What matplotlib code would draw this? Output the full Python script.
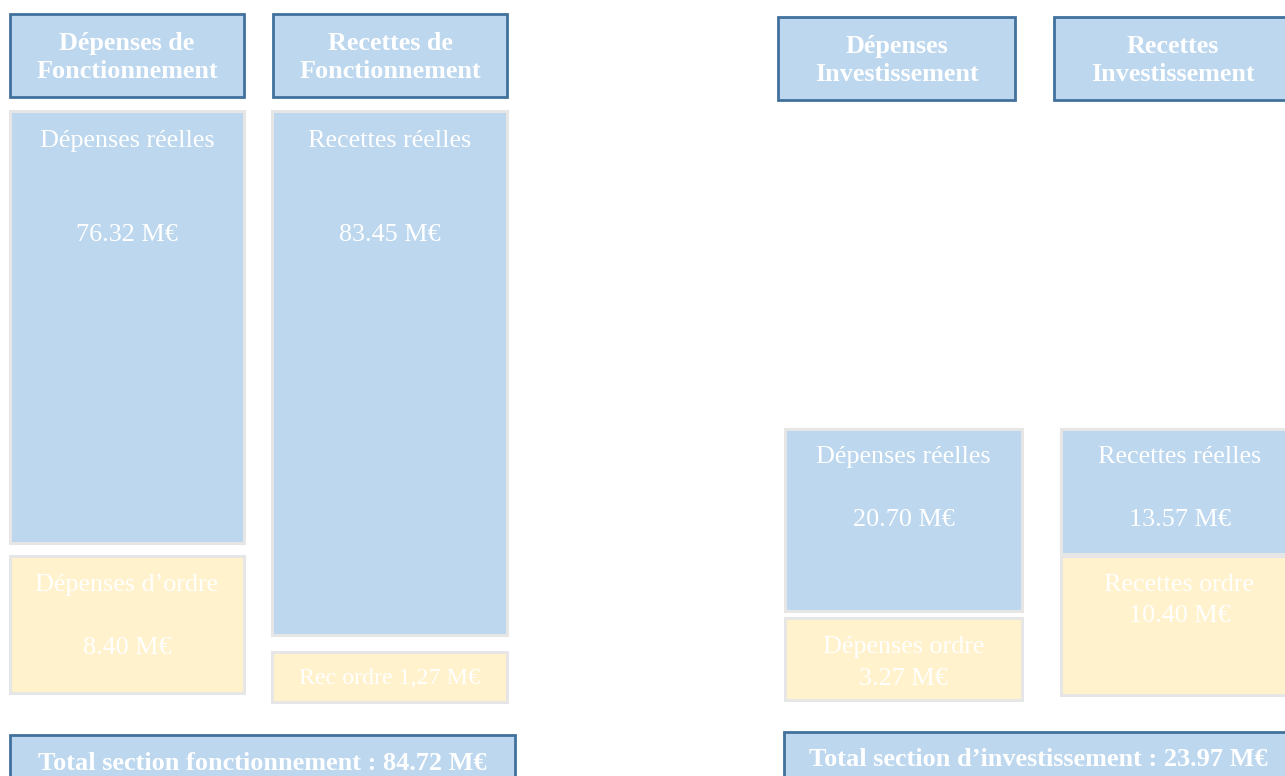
import matplotlib.pyplot as plt
from matplotlib.patches import Rectangle

# --- data -----------------------------------------------------------------
header_labels = ["Dépenses de\nFonctionnement", "Recettes de\nFonctionnement",
                 "Dépenses\nInvestissement", "Recettes\nInvestissement"]
box_names = ["Dépenses réelles", "Dépenses d’ordre", "Recettes réelles", "Rec ordre",
             "Dépenses réelles", "Dépenses ordre", "Recettes réelles", "Recettes ordre"]
box_values = [76.32, 8.40, 83.45, 1.27, 20.70, 3.27, 13.57, 10.40]
box_kinds = ["reel", "ordre", "reel", "ordre", "reel", "ordre", "reel", "ordre"]
total_labels = ["Total section fonctionnement", "Total section d’investissement"]
total_values = [84.72, 23.97]

# --- layout (pixel space, y down) -----------------------------------------
W, H = 1285, 776
header_rects = [(10, 14, 234, 83), (273, 14, 234, 83), (778, 17, 237, 83), (1054, 17, 237, 83)]
# x, y, w, h, y of name, y of value (None -> single line)
box_layout = [
    (10, 111, 234, 432, 141, 235),
    (10, 556, 234, 137, 585, 648),
    (272, 111, 235, 524, 141, 235),
    (272, 652, 235, 50, 679, None),
    (785, 429, 237, 182, 457, 520),
    (785, 618, 237, 82, 647, 679),
    (1061, 429, 237, 125, 457, 520),
    (1061, 556, 237, 139, 585, 616),
]
total_rects = [(10, 735, 505, 60), (784, 732, 508, 60)]
total_text_y = [764, 760]

BLUE = "#BDD7EE"
YELLOW = "#FFF2CC"
DARK = "#41719C"
GREY = "#E7E6E6"

plt.rcParams["font.family"] = ["Liberation Serif", "DejaVu Serif"]

fig = plt.figure(figsize=(W / 100, H / 100), dpi=100)
ax = fig.add_axes([0, 0, 1, 1])
ax.set_xlim(0, W)
ax.set_ylim(H, 0)
ax.axis("off")

for (x, y, w, h), lab in zip(header_rects, header_labels):
    ax.add_patch(Rectangle((x, y), w, h, facecolor=BLUE, edgecolor=DARK, lw=2))
    ax.text(x + w / 2, y + h / 2 + 2, lab, ha="center", va="center", color="white",
            fontsize=18.8, fontweight="bold", linespacing=1.25)

for (x, y, w, h, ty, vy), name, val, kind in zip(box_layout, box_names, box_values, box_kinds):
    fc = BLUE if kind == "reel" else YELLOW
    ax.add_patch(Rectangle((x, y), w, h, facecolor=fc, edgecolor=GREY, lw=2.2))
    if vy is None:
        ax.text(x + w / 2, ty, f"{name} {val:.2f} M€".replace(".", ","), ha="center",
                va="center", color="white", fontsize=17.2)
    else:
        ax.text(x + w / 2, ty, name, ha="center", va="center", color="white", fontsize=18.8)
        ax.text(x + w / 2, vy, f"{val:.2f} M€", ha="center", va="center", color="white",
                fontsize=18.8)

for (x, y, w, h), ty, lab, val in zip(total_rects, total_text_y, total_labels, total_values):
    ax.add_patch(Rectangle((x, y), w, h, facecolor=BLUE, edgecolor=DARK, lw=2))
    ax.text(x + w / 2, ty, f"{lab} : {val:.2f} M€", ha="center", va="center",
            color="white", fontsize=18.9, fontweight="bold")

fig.savefig("out.png", dpi=100)
